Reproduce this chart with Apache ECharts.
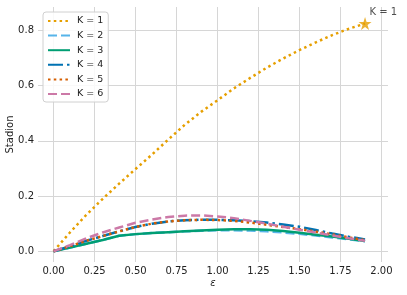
<!DOCTYPE html>
<html>
<head>
<meta charset="utf-8">
<script src="https://cdn.jsdelivr.net/npm/echarts@6/dist/echarts.min.js"></script>
<style>html,body{margin:0;padding:0;background:#fff;}#c{width:407px;height:295px;}</style>
</head>
<body>
<div id="c"></div>
<script>
const eps = [0,0.1,0.2,0.3,0.4,0.5,0.6,0.7,0.8,0.9,1.0,1.1,1.2,1.3,1.4,1.5,1.6,1.7,1.8,1.9];
const k1 = [0,0.068,0.132,0.19,0.245,0.298,0.35,0.405,0.458,0.505,0.547,0.59,0.628,0.665,0.698,0.729,0.757,0.783,0.806,0.825];
const k2 = [0,0.013,0.027,0.041,0.056,0.062,0.066,0.069,0.072,0.074,0.076,0.076,0.075,0.072,0.068,0.063,0.057,0.05,0.043,0.036];
const k3 = [0,0.013,0.027,0.041,0.056,0.062,0.066,0.069,0.072,0.075,0.078,0.08,0.08,0.078,0.073,0.067,0.06,0.053,0.045,0.037];
const k4 = [0,0.018,0.038,0.055,0.072,0.088,0.1,0.108,0.112,0.114,0.114,0.112,0.109,0.104,0.097,0.089,0.077,0.064,0.053,0.043];
const k5 = [0,0.018,0.038,0.055,0.072,0.088,0.1,0.108,0.112,0.114,0.113,0.11,0.104,0.096,0.088,0.08,0.071,0.061,0.05,0.04];
const k6 = [0,0.022,0.047,0.068,0.086,0.103,0.115,0.124,0.129,0.13,0.126,0.12,0.11,0.1,0.089,0.078,0.068,0.057,0.047,0.038];
const starPoint = [1.9, 0.825];
const xTicks = [0,0.25,0.5,0.75,1.0,1.25,1.5,1.75,2.0];
const yTicks = [0,0.2,0.4,0.6,0.8];
const names = ['K = 1','K = 2','K = 3','K = 4','K = 5','K = 6'];
const colors = ['#E69F00','#56B4E9','#009E73','#0072B2','#D55E00','#CC79A7'];
const dashes = [[2.5,3.3],[9,4],'solid',[15,4,2.5,4],[2.5,3.3],[9,4]];
const seriesVals = [k1,k2,k3,k4,k5,k6];

const font = 'DejaVu Sans';
const series = seriesVals.map((vals, i) => ({
  name: names[i],
  type: 'line',
  data: eps.map((x, j) => [x, vals[j]]),
  symbol: 'none',
  color: colors[i],
  lineStyle: { color: colors[i], width: 2.5, type: dashes[i], cap: 'butt' },
  z: 2 + i,
  animation: false
}));
series.push({
  name: 'star',
  type: 'scatter',
  data: [starPoint],
  symbol: 'path://M50,0 L61.8,35.4 L100,35.4 L69.1,57.3 L80.9,92.7 L50,70.8 L19.1,92.7 L30.9,57.3 L0,35.4 L38.2,35.4 Z',
  symbolSize: 13,
  itemStyle: { color: '#E69F00' },
  label: { show: true, formatter: 'K = 1', position: [11, -5], align: 'left', verticalAlign: 'middle', fontFamily: font, fontSize: 10, color: '#222' },
  z: 10,
  animation: false
});

const chart = echarts.init(document.getElementById('c'), null, { renderer: 'canvas' });
chart.setOption({
  backgroundColor: '#fff',
  animation: false,
  grid: { left: 38, right: 19, top: 7, bottom: 33, containLabel: false, outerBoundsMode: 'none' },
  legend: {
    data: names,
    orient: 'vertical',
    left: 43, top: 12,
    padding: [4, 5, 3, 4],
    itemWidth: 22, itemHeight: 10, itemGap: 4.6,
    itemStyle: { opacity: 0 },
    backgroundColor: 'rgba(255,255,255,0.85)',
    borderColor: '#d0d0d0', borderWidth: 1, borderRadius: 3,
    textStyle: { fontFamily: font, fontSize: 9.5, color: '#222', padding: [0,0,0,2] }
  },
  xAxis: {
    type: 'value', min: -0.095, max: 2.04,
    name: 'ε', nameLocation: 'middle', nameGap: 16, nameMoveOverlap: false,
    nameTextStyle: { fontFamily: font, fontSize: 10, fontStyle: 'italic', color: '#222' },
    axisLine: { show: false }, axisTick: { show: false, customValues: xTicks },
    axisLabel: { customValues: xTicks, formatter: v => v.toFixed(2), fontFamily: font, fontSize: 10, color: '#222', margin: 4 },
    splitLine: { show: true, lineStyle: { color: '#d6d6d6', width: 1 } }
  },
  yAxis: {
    type: 'value', min: -0.039, max: 0.885,
    name: 'Stadion', nameLocation: 'middle', nameGap: 23, nameMoveOverlap: false,
    nameTextStyle: { fontFamily: font, fontSize: 10, color: '#222' },
    axisLine: { show: false }, axisTick: { show: false, customValues: yTicks },
    axisLabel: { customValues: yTicks, formatter: v => v.toFixed(1), fontFamily: font, fontSize: 10, color: '#222', margin: 4 },
    splitLine: { show: true, lineStyle: { color: '#d6d6d6', width: 1 } }
  },
  series: series
});
</script>
</body>
</html>
